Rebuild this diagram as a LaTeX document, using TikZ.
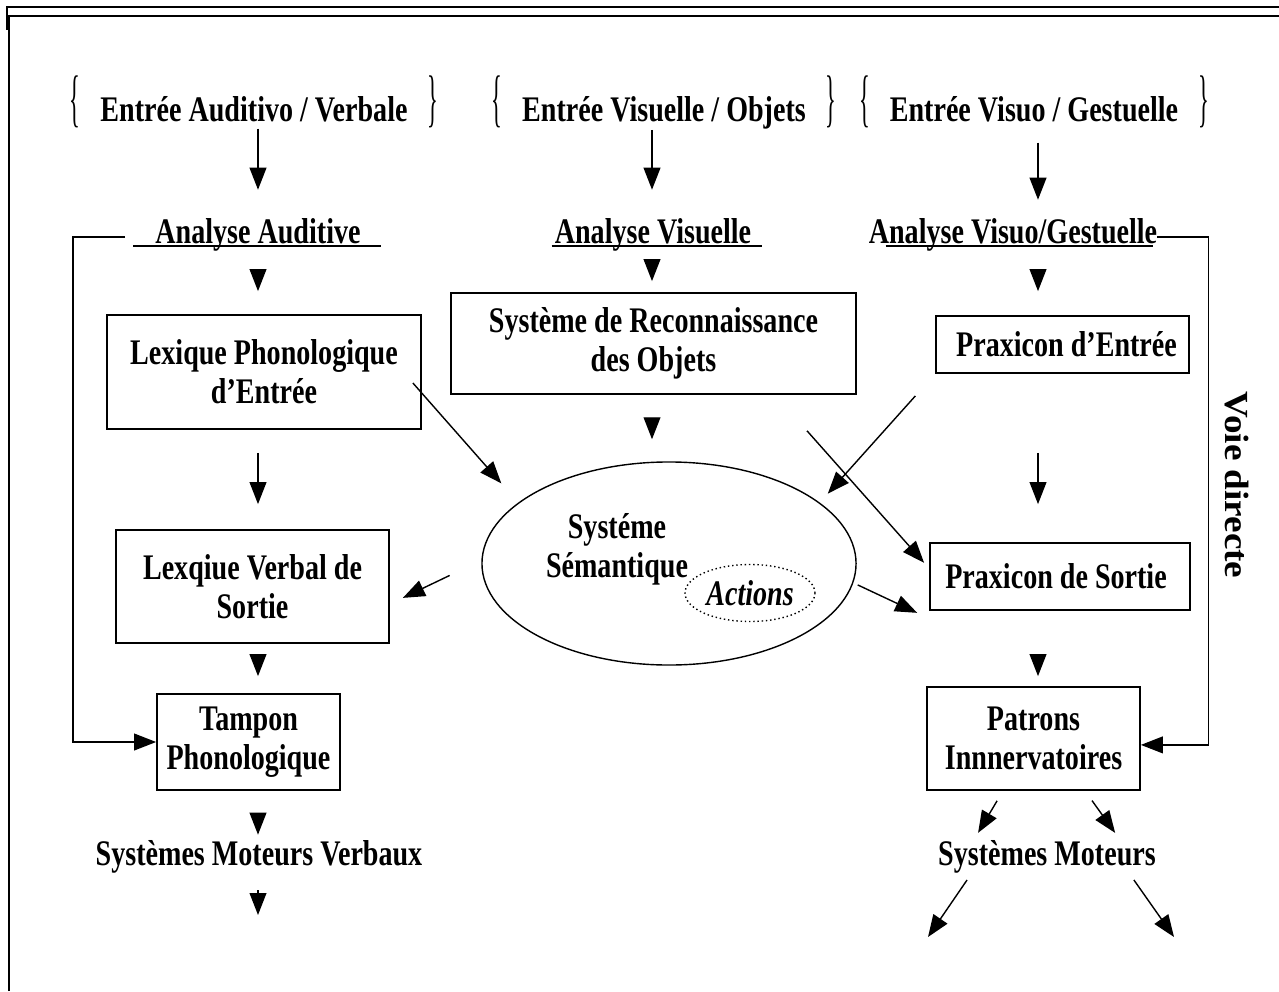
\documentclass[tikz,border=0pt]{standalone}
\usepackage{graphicx}
\usepackage{fontspec}
\setmainfont{Liberation Serif}[FakeStretch=0.78]
\newfontfamily\voiefont{Liberation Serif}[FakeStretch=1.1]
\usetikzlibrary{arrows.meta, positioning, calc, shapes.geometric}

% accolades autour des entrees
\newcommand{\accol}[1]{\raisebox{0.05cm}{\scalebox{0.8}[1.75]{\mdseries\{}}\hspace{0.5cm}#1\hspace{0.5cm}\raisebox{0.05cm}{\scalebox{0.8}[1.75]{\mdseries\}}}}

\begin{document}
\begin{tikzpicture}[
        x=0.025cm, y=-0.025cm,
        every node/.style={font=\fontsize{25.6}{27.7}\selectfont\bfseries},
        txt/.style={inner sep=0pt, align=center},
        boite/.style={draw, line width=1.2pt, align=center, inner sep=2pt},
        fleche/.style={line width=1pt, -{Triangle[length=0.55cm,width=0.42cm]}},
        trait/.style={line width=1pt},
        cadre/.style={line width=1.5pt}
    ]
        \useasboundingbox (0,0) rectangle (1279,991);
        \draw[cadre] (7,30) -- (7,7) -- (1279,7);
        \draw[cadre] (9,991) -- (9,16) -- (1279,16);

        \coordinate (c1) at (258,0);
        \coordinate (c2) at (652,0);
        \coordinate (c3) at (1038,0);

        % entrees
        \node[txt, anchor=base] (ea) at (254,122) {\accol{Entrée Auditivo / Verbale}};
        \node[txt, anchor=base] (ev) at (664,122) {\accol{Entrée Visuelle / Objets}};
        \node[txt, anchor=base] (eg) at (1034,122) {\accol{Entrée Visuo / Gestuelle}};

        % analyses
        \node[txt, anchor=base] (aa) at (258,243) {Analyse Auditive};
        \node[txt, anchor=base] (av) at (653,243) {Analyse Visuelle};
        \node[txt, anchor=base] (ag) at (1013,243) {Analyse Visuo/Gestuelle};
        \draw[trait] ([xshift=-0.55cm,yshift=-0.075cm]aa.base west) -- ([xshift=0.5cm,yshift=-0.075cm]aa.base east);
        \draw[trait] ([xshift=-0.075cm,yshift=-0.075cm]av.base west) -- ([xshift=0.275cm,yshift=-0.075cm]av.base east);
        \draw[trait] ([xshift=0.425cm,yshift=-0.075cm]ag.base west) -- ([xshift=-0.1cm,yshift=-0.075cm]ag.base east);

        % boites
        \node[boite, minimum width=7.85cm, minimum height=2.85cm] (lpe) at (264,372) {Lexique Phonologique\\d’Entrée};
        \node[boite, minimum width=10.125cm, minimum height=2.525cm] (sro) at (653.5,343.5) {Système de Reconnaissance\\des Objets};
        \node[boite, minimum width=6.325cm, minimum height=1.425cm] (pe) at (1062.5,344.5) {\hspace{0.2cm}Praxicon d’Entrée};
        \node[boite, minimum width=6.825cm, minimum height=2.825cm] (lvs) at (252.5,586.5) {Lexqiue Verbal de\\Sortie};
        \node[boite, minimum width=6.5cm, minimum height=1.675cm] (ps) at (1060,576.5) {Praxicon de Sortie\hspace{0.2cm}};
        \node[boite, minimum width=4.575cm, minimum height=2.4cm] (tp) at (248.5,742) {Tampon\\Phonologique};
        \node[boite, minimum width=5.325cm, minimum height=2.575cm] (pi) at (1033.5,738.5) {Patrons\\Innnervatoires};

        % systeme semantique
        \node[draw, ellipse, line width=1pt, inner sep=0pt, minimum width=9.35cm, minimum height=5.075cm] (ss) at (669,563.5) {};
        \node[txt] (sst) at (617,549) {Systéme\\Sémantique};
        \node[draw, ellipse, dotted, line width=1pt, inner sep=0pt, minimum width=3.25cm, minimum height=1.425cm, font=\fontsize{25.6}{27.7}\selectfont\bfseries\itshape] (act) at (750,593) {Actions};

        % sorties
        \node[txt, anchor=base] (smv) at (259,865) {Systèmes Moteurs Verbaux};
        \node[txt, anchor=base] (sm) at (1047,865) {Systèmes Moteurs};
        \coordinate (fin1) at (258,915);
        \coordinate (fin2) at (928,937);
        \coordinate (fin3) at (1174,937);

        \node[font=\voiefont\fontsize{24}{24}\selectfont\bfseries, rotate=-90] (vd) at (1237,485) {Voie directe};

        % fleches verticales
        \draw[fleche, shorten >=0.7cm] (ea.south -| c1) -- (c1 |- aa.north);
        \draw[fleche, shorten >=0.7cm] (ev.south -| c2) -- (c2 |- av.north);
        \draw[fleche, shorten <=0.35cm, shorten >=0.45cm] (eg.south -| c3) -- (c3 |- ag.north);
        \draw[fleche, shorten <=0.45cm, shorten >=0.575cm] (aa.south -| c1) -- (c1 |- lpe.north);
        \draw[fleche, shorten <=0.25cm, shorten >=0.275cm] (av.south -| c2) -- (c2 |- sro.north);
        \draw[fleche, shorten <=0.5cm, shorten >=0.6cm] (ag.south -| c3) -- (c3 |- pe.north);
        \draw[fleche, shorten <=0.575cm, shorten >=0.625cm] (lpe.south -| c1) -- (c1 |- lvs.north);
        \draw[fleche, shorten <=0.6cm, shorten >=0.55cm] (sro.south -| c2) -- (c2 |- ss.north);
        \draw[fleche, shorten <=1.975cm, shorten >=0.95cm] (pe.south -| c3) -- (c3 |- ps.north);
        \draw[fleche, shorten <=0.3cm, shorten >=0.425cm] (lvs.south -| c1) -- (c1 |- tp.north);
        \draw[fleche, shorten <=1.125cm, shorten >=0.25cm] (ps.south -| c3) -- (c3 |- pi.north);
        \draw[fleche, shorten <=0.575cm, shorten >=0.125cm] (tp.south -| c1) -- (c1 |- smv.north);
        \draw[fleche, shorten <=0.425cm] (smv.south -| c1) -- (fin1);

        % fleches obliques
        \draw[fleche, shorten >=0.64cm] ([xshift=-0.225cm,yshift=-0.275cm]lpe.east) -- (ss.158.8);
        \draw[fleche, shorten <=0.74cm, shorten >=0.3cm] (pe.south west) -- (ss.22);
        \draw[fleche, shorten <=1.2cm, shorten >=0.19cm] ([xshift=3.04cm]sro.south) -- ([yshift=0.2cm]ps.west);
        \draw[fleche, shorten <=0.88cm, shorten >=0.36cm] (ss.179) -- ([yshift=-0.44cm]lvs.east);
        \draw[fleche, shorten <=0.12cm, shorten >=0.33cm] (ss.-6) -- ([yshift=-0.19cm]ps.south west);
        \draw[fleche, shorten <=0.29cm, shorten >=0.2cm] ([xshift=-0.7625cm]pi.south) -- ([xshift=-1.825cm]sm.north);
        \draw[fleche, shorten <=0.3cm, shorten >=0.21cm] ([xshift=1.2875cm]pi.south) -- ([xshift=1.825cm]sm.north);
        \draw[fleche, shorten <=0.21cm] ([xshift=-1.88cm]sm.south) -- (fin2);
        \draw[fleche, shorten <=0.21cm] ([xshift=2.05cm]sm.south) -- (fin3);

        % voies directes
        \draw[fleche] ([xshift=-0.75cm,yshift=0.15cm]aa.base west) -- ++(-52,0) |- (tp.west);
        \draw[fleche] ([yshift=0.15cm]ag.base east) -- ++(51,0) |- ([yshift=-0.16cm]pi.east);
    \end{tikzpicture}
\end{document}
